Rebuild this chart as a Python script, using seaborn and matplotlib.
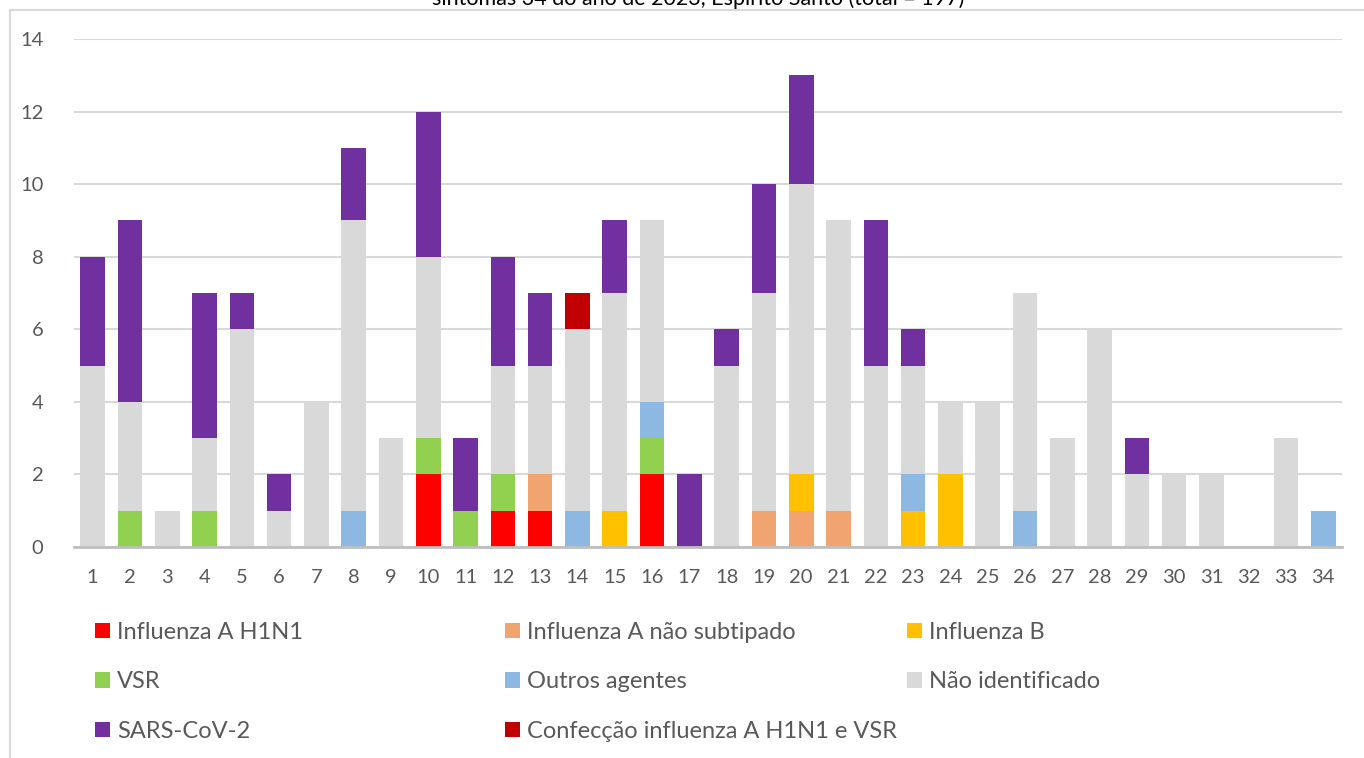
import numpy as np
import pandas as pd
import matplotlib
matplotlib.use('Agg')
import matplotlib.pyplot as plt
import seaborn as sns
from matplotlib.patches import Rectangle, Patch

# data (cases per week of symptom onset)
weeks = [str(w) for w in range(1, 35)]
h1n1      = [0,0,0,0,0,0,0,0,0,2,0,1,1,0,0,2,0,0,0,0,0,0,0,0,0,0,0,0,0,0,0,0,0,0]
flua_ns   = [0,0,0,0,0,0,0,0,0,0,0,0,1,0,0,0,0,0,1,1,1,0,0,0,0,0,0,0,0,0,0,0,0,0]
flub      = [0,0,0,0,0,0,0,0,0,0,0,0,0,0,1,0,0,0,0,1,0,0,1,2,0,0,0,0,0,0,0,0,0,0]
vsr       = [0,1,0,1,0,0,0,0,0,1,1,1,0,0,0,1,0,0,0,0,0,0,0,0,0,0,0,0,0,0,0,0,0,0]
outros    = [0,0,0,0,0,0,0,1,0,0,0,0,0,1,0,1,0,0,0,0,0,0,1,0,0,1,0,0,0,0,0,0,0,1]
nao_ident = [5,3,1,2,6,1,4,8,3,5,0,3,3,5,6,5,0,5,6,8,8,5,3,2,4,6,3,6,2,2,2,0,3,0]
sars      = [3,5,0,4,1,1,0,2,0,4,2,3,2,0,2,0,2,1,3,3,0,4,1,0,0,0,0,0,1,0,0,0,0,0]
coinf     = [0,0,0,0,0,0,0,0,0,0,0,0,0,1,0,0,0,0,0,0,0,0,0,0,0,0,0,0,0,0,0,0,0,0]

series = ['Influenza A H1N1', 'Influenza A não subtipado', 'Influenza B', 'VSR',
          'Outros agentes', 'Não identificado', 'SARS-CoV-2',
          'Confecção influenza A H1N1 e VSR']
values = [h1n1, flua_ns, flub, vsr, outros, nao_ident, sars, coinf]
colors = ['#FF0000', '#F1A46F', '#FFC000', '#92D050',
          '#8DB8E2', '#D9D9D9', '#7030A0', '#C00000']

df = pd.DataFrame(dict(zip(series, values)), index=weeks)
cum = df.cumsum(axis=1)

sns.set_style('white')
plt.rcParams['font.family'] = ['Lato', 'DejaVu Sans']
txt = '#595959'

fig = plt.figure(figsize=(13.64, 7.58), dpi=100)
ax = fig.add_axes([74/1364, 1-547/758, (1342-74)/1364, (547-39)/758])

# stacked bars: draw cumulative totals from the top layer down
for name, col in reversed(list(zip(series, colors))):
    d = pd.DataFrame({'semana': weeks, 'casos': cum[name].values})
    sns.barplot(data=d, x='semana', y='casos', order=weeks, color=col,
                saturation=1, width=0.66, linewidth=0, ax=ax, zorder=3)

ax.set_ylim(0, 14)
ax.set_yticks(range(0, 15, 2))
ax.set_xlim(-0.5, 33.5)
ax.grid(axis='y', color='#D9D9D9', linewidth=1.5, zorder=0)
ax.set_axisbelow(True)
for s in ['left', 'top', 'right']:
    ax.spines[s].set_visible(False)
ax.spines['bottom'].set_color('#BFBFBF')
ax.spines['bottom'].set_linewidth(2)
ax.spines['bottom'].set_zorder(4)
ax.tick_params(axis='both', length=0, labelsize=14.5, labelcolor=txt)
ax.tick_params(axis='y', pad=22)
ax.tick_params(axis='x', pad=16)
ax.set_xlabel('')
ax.set_ylabel('')

# title, cut off at the top as in the original
fig.text(698/1364, 1-5/758, 'sintomas 34 do ano de 2023, Espírito Santo (total = 197)',
         ha='center', va='baseline', fontsize=15.5, color='black')

# outer frame
fig.patches.append(Rectangle((10/1364, -0.1), 1.2, 1.1 - 10/758, transform=fig.transFigure,
                             fill=False, edgecolor='#D9D9D9', linewidth=1.5))

# legend in three columns
handles = [Patch(facecolor=c, edgecolor='none') for c in colors]
cols = [[0, 3, 6], [1, 4, 7], [2, 5]]
xs = [95, 505, 907]
for idx, x0 in zip(cols, xs):
    leg = fig.legend([handles[i] for i in idx], [series[i] for i in idx],
                     loc='upper left', bbox_to_anchor=(x0/1364, 1-622/758),
                     frameon=False, fontsize=17, labelcolor=txt,
                     handlelength=0.62, handleheight=0.62, handletextpad=0.3,
                     labelspacing=1.2, borderpad=0, borderaxespad=0)

fig.savefig('out.png', dpi=100)
